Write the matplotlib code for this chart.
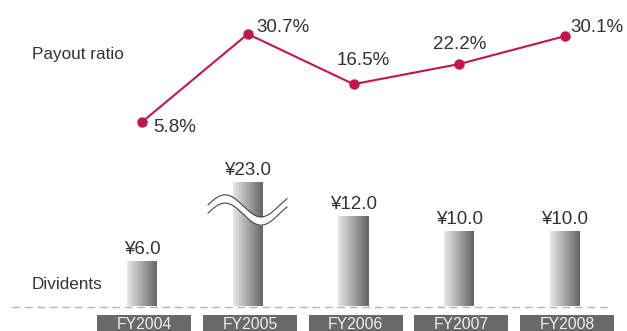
import numpy as np
import matplotlib.pyplot as plt
from matplotlib.patches import Rectangle

plt.rcParams['font.family'] = ['Liberation Sans', 'DejaVu Sans']

# data
years = ['FY2004', 'FY2005', 'FY2006', 'FY2007', 'FY2008']
payout = [5.8, 30.7, 16.5, 22.2, 30.1]
dividends = [6.0, 23.0, 12.0, 10.0, 10.0]

LINE_C = '#c2174a'
TEXT_C = '#333333'

# values above BREAK are squeezed so the tall bar fits
BREAK = 15.0
SQUEEZE = 0.2

def fwd(v):
    v = np.asarray(v, dtype=float)
    return np.where(v > BREAK, BREAK + (v - BREAK) * SQUEEZE, v)

def inv(d):
    d = np.asarray(d, dtype=float)
    return np.where(d > BREAK, BREAK + (d - BREAK) / SQUEEZE, d)

fig = plt.figure(figsize=(6.27, 3.31), dpi=100)
ax_bar = fig.add_axes([0, 0, 1, 1])
ax_line = fig.add_axes([0, 0, 1, 1])
for a in (ax_bar, ax_line):
    a.set_axis_off()
    a.patch.set_alpha(0)
    a.set_xlim(-1.343, 4.586)

x = np.arange(len(years))

# ---- payout ratio line ----
ax_line.set_ylim(-53.34, 40.32)
ax_line.plot(x, payout, color=LINE_C, lw=1.5, marker='o', ms=6.5, mec=LINE_C, mfc=LINE_C)
offsets = [(8, -4, 'left', 'center'), (6, 5, 'left', 'center'),
           (7, 11, 'center', 'bottom'), (0, 8, 'center', 'bottom'), (4, 6, 'left', 'center')]
for xi, v, (dx, dy, ha, va) in zip(x, payout, offsets):
    ax_line.annotate(f'{v:.1f}%', (xi, v), xytext=(dx, dy), textcoords='offset points',
                     ha=ha, va=va, fontsize=13.5, color=TEXT_C)
ax_line.text(-1.04, 24.8, 'Payout ratio', fontsize=12.3, color=TEXT_C, va='center', ha='left')

# ---- dividend bars ----
ax_bar.set_yscale('function', functions=(fwd, inv))
ax_bar.set_ylim(-3.27, float(inv(40.87)))

bar_w = 0.284
n_strips = 30
shades = np.linspace(0.90, 0.40, n_strips)
sw = bar_w / n_strips
for k, g in enumerate(shades):
    ax_bar.bar(x - bar_w / 2 + (k + 0.5) * sw, dividends, width=sw * 1.15,
               color=(g, g, g), lw=0, zorder=2)

for xi, v in zip(x, dividends):
    ax_bar.annotate(f'¥{v:.1f}', (xi, v), xytext=(0, 2.5), textcoords='offset points',
                    ha='center', va='bottom', fontsize=13.5, color=TEXT_C, zorder=5)

# break mark across the tall bar
wx = np.linspace(0.624, 1.371, 200)
wy = 12.87 + 1.47 * np.cos(2 * np.pi * (wx - 0.785) / 0.681)
ax_bar.fill_between(wx, wy - 0.55, wy + 0.55, color='white', lw=0, zorder=3)
ax_bar.plot(wx, wy + 0.55, color='#444444', lw=0.8, zorder=4)
ax_bar.plot(wx, wy - 0.55, color='#444444', lw=0.8, zorder=4)

# dashed baseline
ax_bar.plot([-1.229, 4.444], [-0.03, -0.03], color='#b5b5b5', lw=1, ls=(0, (5.5, 3.5)), zorder=1)

ax_bar.text(-1.04, 2.87, 'Dividents', fontsize=12.3, color=TEXT_C, va='center', ha='left')

# year boxes
box_w = 0.889
for xi, name in zip(x, years):
    ax_bar.add_patch(Rectangle((xi + 0.02 - box_w / 2, -3.4), box_w, 2.23,
                               facecolor='#696969', edgecolor='none', zorder=2, clip_on=False))
    ax_bar.text(xi + 0.02, -2.98, name, ha='center', va='baseline', fontsize=11.3,
                color='#eeeeee', zorder=3)

fig.savefig('out.png', dpi=100)
